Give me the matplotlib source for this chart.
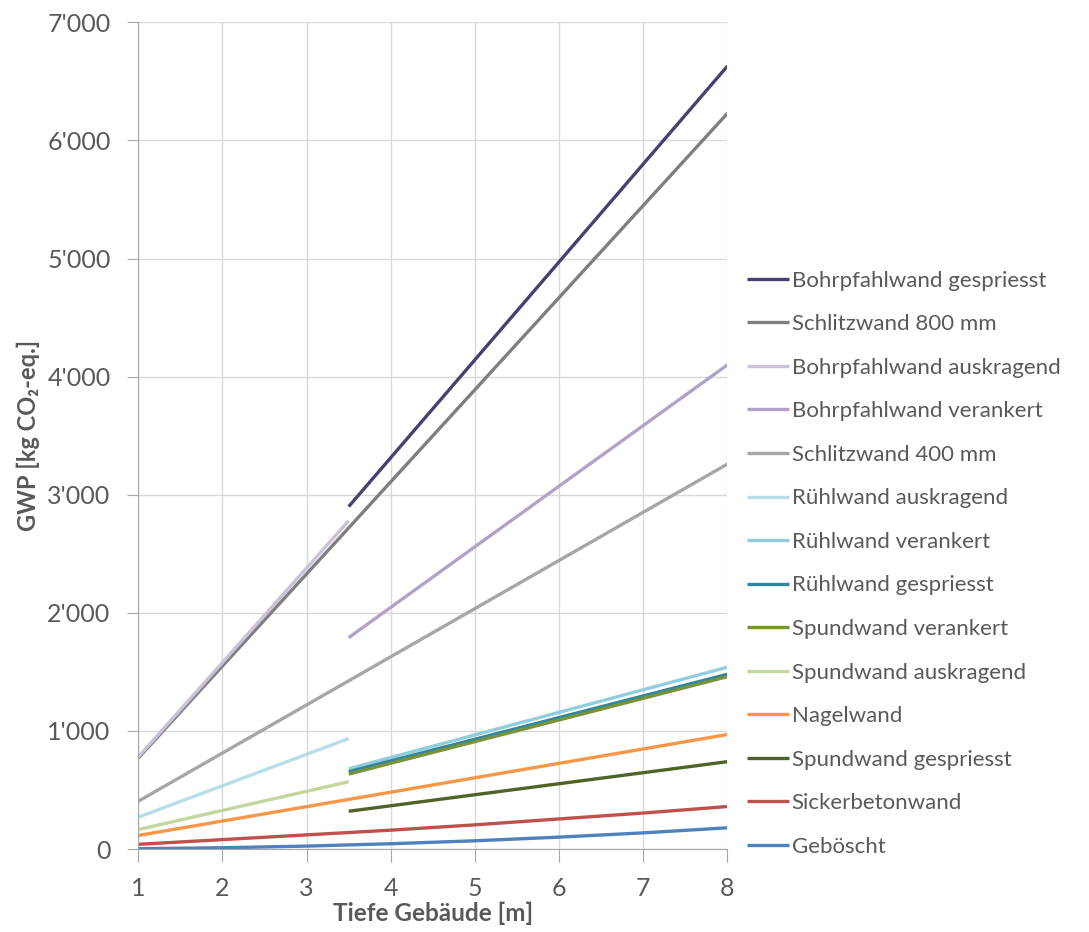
import matplotlib
matplotlib.use("Agg")
import matplotlib.pyplot as plt
from matplotlib.ticker import FuncFormatter, MultipleLocator

# depth [m] and GWP [kg CO2-eq.] per wall type
names = [
    "Bohrpfahlwand gespriesst", "Schlitzwand 800 mm", "Bohrpfahlwand auskragend",
    "Bohrpfahlwand verankert", "Schlitzwand 400 mm", "Rühlwand auskragend",
    "Rühlwand verankert", "Rühlwand gespriesst", "Spundwand verankert",
    "Spundwand auskragend", "Nagelwand", "Spundwand gespriesst",
    "Sickerbetonwand", "Geböscht",
]
colors = [
    "#4b3f72", "#7f7f7f", "#ccc1da", "#b3a2c7", "#a6a6a6", "#b7dee8",
    "#93cddd", "#31859c", "#77933c", "#c3d69b", "#f79646", "#4f6228",
    "#c0504d", "#4f81bd",
]

x_low = [1, 3.5]
x_high = [3.5, 8]
x_all = [1, 2, 3, 4, 5, 6, 7, 8]

bohr_gespr = [2900, 6630]
schlitz_800 = [770, 6230]
bohr_auskr = [780, 2780]
bohr_veran = [1790, 4100]
schlitz_400 = [405, 3260]
ruehl_auskr = [270, 935]
ruehl_veran = [680, 1540]
ruehl_gespr = [655, 1480]
spund_veran = [635, 1460]
spund_auskr = [165, 570]
nagel = [115, 970]
spund_gespr = [320, 740]
sicker = [40, 80, 120, 160, 205, 255, 305, 360]
geboescht = [3, 11, 25, 45, 70, 101, 137, 180]

series = [
    (x_high, bohr_gespr), ([1, 8], schlitz_800), (x_low, bohr_auskr),
    (x_high, bohr_veran), ([1, 8], schlitz_400), (x_low, ruehl_auskr),
    (x_high, ruehl_veran), (x_high, ruehl_gespr), (x_high, spund_veran),
    (x_low, spund_auskr), ([1, 8], nagel), (x_high, spund_gespr),
    (x_all, sicker), (x_all, geboescht),
]

plt.rcParams["font.family"] = ["Lato", "DejaVu Sans"]

fig = plt.figure(figsize=(10.89, 9.32), dpi=100)
ax = fig.add_axes([0.127, 0.089, 0.541, 0.887])

for (xs, ys), name, c in zip(series, names, colors):
    ax.plot(xs, ys, color=c, lw=2.4, label=name, solid_capstyle="butt")

ax.set_xlim(1, 8)
ax.set_ylim(0, 7000)
ax.xaxis.set_major_locator(MultipleLocator(1))
ax.yaxis.set_major_locator(MultipleLocator(1000))
ax.yaxis.set_major_formatter(FuncFormatter(lambda v, p: f"{int(v):,}".replace(",", "'")))
ax.grid(True, color="#d9d9d9", lw=1)
ax.set_axisbelow(True)
for s in ["top", "right"]:
    ax.spines[s].set_visible(False)
for s in ["left", "bottom"]:
    ax.spines[s].set_color("#a6a6a6")
ax.tick_params(axis="both", colors="#a6a6a6", labelcolor="#595959", labelsize=18)
ax.tick_params(axis="y", length=8, pad=12)
ax.tick_params(axis="x", length=9, pad=11)

ax.set_xlabel("Tiefe Gebäude [m]", fontsize=17.5, fontweight="bold", color="#595959", labelpad=1)
ax.set_ylabel("GWP [kg CO₂-eq.]", fontsize=17, fontweight="bold", color="#595959", labelpad=5)

fig.legend(loc="upper left", bbox_to_anchor=(0.676, 0.7216), frameon=False, borderpad=0,
           fontsize=16, handlelength=1.9, handletextpad=0.1, labelspacing=1.06,
           labelcolor="#595959")

fig.savefig("out.png", dpi=100)
